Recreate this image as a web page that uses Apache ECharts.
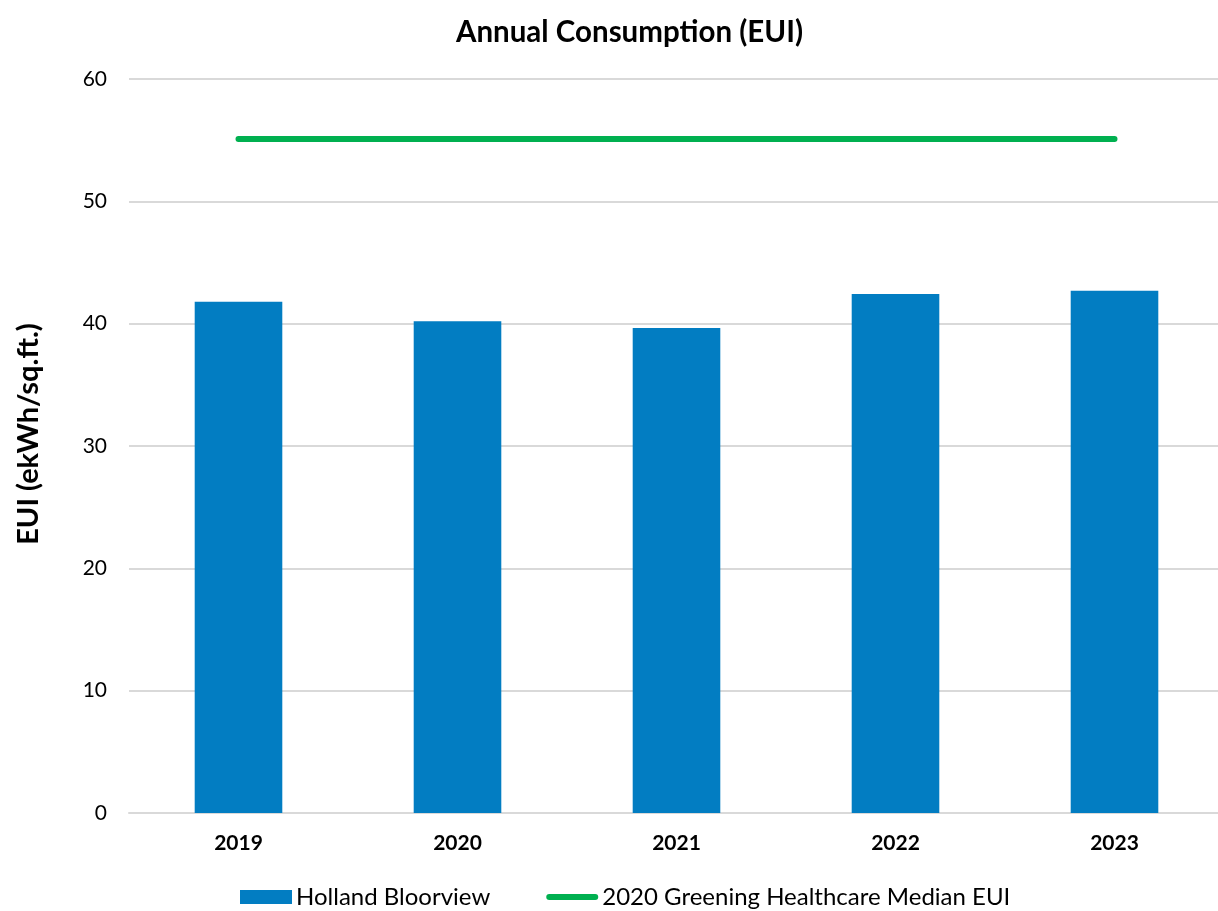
<!DOCTYPE html>
<html>
<head>
<meta charset="utf-8">
<script src="https://cdn.jsdelivr.net/npm/echarts@6/dist/echarts.min.js"></script>
<style>
  html, body { margin: 0; padding: 0; background: #fff; }
  #chart { width: 1218px; height: 911px; }
</style>
</head>
<body>
<div id="chart"></div>
<script>
const years = ["2019", "2020", "2021", "2022", "2023"];
const hollandEui = [41.8, 40.2, 39.65, 42.43, 42.7];
const medianEui = [55.1, 55.1, 55.1, 55.1, 55.1];
const yTicks = [0, 10, 20, 30, 40, 50, 60];

const myChart = echarts.init(document.getElementById("chart"));
const font = "Lato";
// thick rounded line as legend icon (bounds padded to the 52x14 item box)
const lineIcon =
  "path://M0,0 L0,0 M52,14 L52,14 M3,4 L49,4 A3,3 0 0 1 49,10 L3,10 A3,3 0 0 1 3,4 Z";

const option = {
  backgroundColor: "#fff",
  animation: false,
  title: {
    text: "Annual Consumption (EUI)",
    left: 451,
    top: 12,
    textStyle: {
      fontFamily: font,
      fontWeight: "bold",
      fontSize: 29.5,
      color: "#000",
    },
  },
  legend: {
    bottom: -3,
    left: 235,
    itemGap: 56,
    itemWidth: 52,
    itemHeight: 14,
    textStyle: {
      fontFamily: font,
      fontSize: 24,
      color: "#000",
      padding: [0, 0, 0, -1],
    },
    data: [
      { name: "Holland Bloorview", icon: "rect" },
      { name: "2020 Greening Healthcare Median EUI", icon: lineIcon },
    ],
  },
  grid: {
    left: 129,
    right: -6,
    top: 79,
    bottom: 98,
    containLabel: false,
    outerBoundsMode: "none",
  },
  xAxis: {
    type: "category",
    data: years,
    axisTick: { show: false },
    axisLine: { lineStyle: { color: "#d9d9d9", width: 2 } },
    axisLabel: {
      margin: 20,
      fontFamily: font,
      fontWeight: "bold",
      fontSize: 21,
      color: "#000",
    },
  },
  yAxis: {
    type: "value",
    min: yTicks[0],
    max: yTicks[yTicks.length - 1],
    interval: 10,
    name: "EUI (ekWh/sq.ft.)",
    nameLocation: "middle",
    nameGap: 86,
    nameTextStyle: {
      fontFamily: font,
      fontWeight: "bold",
      fontSize: 29,
      color: "#000",
      padding: [0, 0, 0, 24],
    },
    axisLine: { show: false },
    axisTick: { show: false },
    axisLabel: {
      margin: 22,
      fontFamily: font,
      fontSize: 21,
      color: "#000",
    },
    splitLine: { lineStyle: { color: "#d9d9d9", width: 2 } },
  },
  series: [
    {
      name: "Holland Bloorview",
      type: "bar",
      data: hollandEui,
      barWidth: "40%",
      itemStyle: { color: "#027dc2" },
    },
    {
      name: "2020 Greening Healthcare Median EUI",
      type: "line",
      data: medianEui,
      symbol: "none",
      lineStyle: { color: "#00b050", width: 6, cap: "round" },
      itemStyle: { color: "#00b050" },
    },
  ],
};

myChart.setOption(option);
</script>
</body>
</html>
